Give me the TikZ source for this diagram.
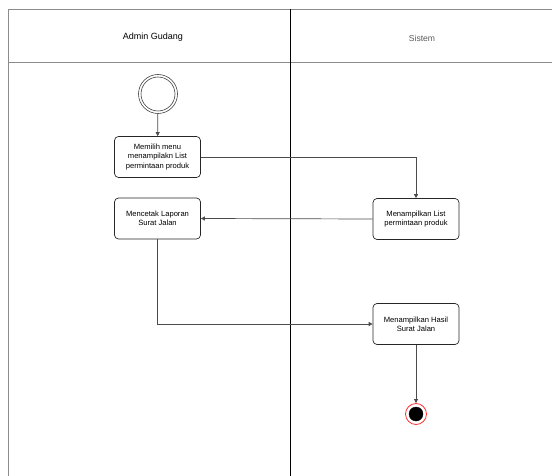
\documentclass[tikz,border=0pt]{standalone}
\usepackage{fontspec}
\setmainfont{Liberation Sans}
\usetikzlibrary{arrows.meta}
\begin{document}
\begin{tikzpicture}[x=1pt,y=-1pt,
  act/.style={draw=black!85,rounded corners=4pt,minimum width=86pt,minimum height=41pt,align=center,font=\fontsize{7.6}{9.4}\selectfont,inner sep=1pt,line width=0.7pt},
  flow/.style={draw=black!70,line width=0.7pt,-{Triangle[length=4pt,width=4pt]}},
  lane/.style={draw=black!45,line width=0.8pt}]
\useasboundingbox (0,0) rectangle (552,476);
% swimlane frame
\draw[lane] (8.8,476) -- (8.8,9.5) -- (552,9.5);
\draw[lane] (8.8,62) -- (552,62);
\draw[black,line width=0.9pt] (290,9.5) -- (290,476);
\node[font=\fontsize{9}{11}\selectfont] (h1) at (153,37) {Admin Gudang};
\node[font=\fontsize{8.6}{11}\selectfont,text=black!65] (h2) at (422,38) {Sistem};
% start
\node[circle,draw=black!75,line width=0.6pt,minimum size=39pt,inner sep=0pt] (start) at (158,94) {};
\node[circle,draw=black!75,line width=0.6pt,minimum size=34pt,inner sep=0pt] (starti) at (158,94) {};
% activities
\node[act] (a1) at (157.5,157) {Memilih menu\\menampilakn List\\permintaan produk};
\node[act] (a2) at (157.5,218.5) {Mencetak Laporan\\Surat Jalan};
\node[act] (a3) at (416,219) {Menampilkan List\\permintaan produk};
\node[act] (a4) at (416,324) {Menampilkan Hasil\\Surat Jalan};
% end
\node[circle,draw=red!80,fill=white,line width=0.8pt,minimum size=21pt,inner sep=0pt] (end) at (416,414) {};
\node[circle,fill=black,draw=black,minimum size=14pt,inner sep=0pt] (endi) at (416,414) {};
% flows
\draw[flow] (start) -- (a1);
\draw[flow] (a1.east) -| (a3.north);
\draw[flow] (a3.west) -- (a2.east);
\draw[flow] (a2.south) |- (a4.west);
\draw[flow] (a4.south) -- (end.north);
\end{tikzpicture}
\end{document}
